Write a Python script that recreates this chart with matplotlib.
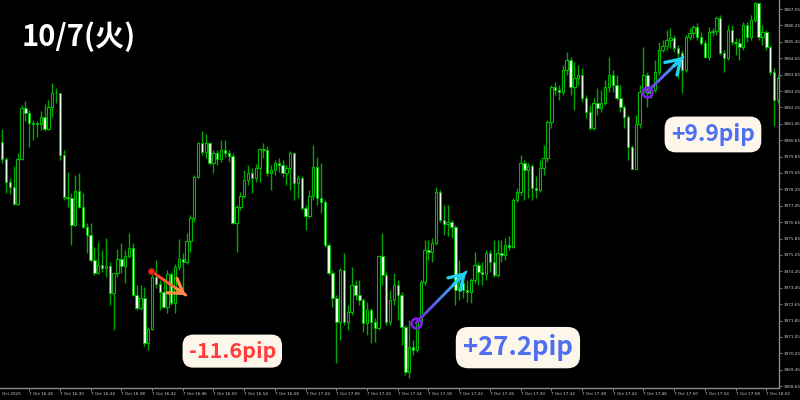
import numpy as np
import matplotlib
matplotlib.use("Agg")
import matplotlib.pyplot as plt
from matplotlib.collections import LineCollection
from matplotlib.colors import LinearSegmentedColormap
import matplotlib.transforms as mtransforms

# 30-second candles, 7 Oct 2025 16:22 - 18:03
first_open = 3980.57
close = [
    3979.73, 3978.61, 3978.36, 3977.53, 3979.73, 3982.22, 3981.98, 3981.49, 3981.44, 3981.46,
    3981.78, 3981.19, 3982.27, 3982.95, 3982.93, 3979.93, 3977.88, 3977.83, 3976.51, 3978.17,
    3977.39, 3976.41, 3976.02, 3974.80, 3974.17, 3974.56, 3974.41, 3974.51, 3973.19, 3974.17,
    3974.85, 3974.51, 3975.00, 3975.39, 3973.09, 3972.46, 3972.95, 3970.75, 3971.43, 3973.97,
    3973.63, 3973.24, 3972.51, 3974.12, 3972.70, 3974.46, 3974.85, 3974.70, 3975.73, 3976.85,
    3978.85, 3980.51, 3980.07, 3980.49, 3979.54, 3980.02, 3979.73, 3980.17, 3980.02, 3979.88,
    3976.61, 3977.39, 3977.93, 3978.71, 3979.05, 3978.80, 3979.29, 3980.22, 3980.15, 3979.05,
    3979.19, 3979.54, 3979.44, 3979.05, 3979.29, 3980.02, 3978.56, 3978.80, 3977.34, 3976.95,
    3977.93, 3979.34, 3977.83, 3977.63, 3975.54, 3974.17, 3972.95, 3971.78, 3974.31, 3971.78,
    3972.27, 3973.58, 3973.09, 3972.85, 3971.73, 3972.36, 3971.80, 3971.48, 3975.00, 3974.07,
    3971.78, 3972.85, 3973.58, 3973.09, 3971.53, 3969.34, 3970.56, 3970.41, 3971.78, 3973.73,
    3975.29, 3975.19, 3975.63, 3978.12, 3976.76, 3976.56, 3976.66, 3976.41, 3973.34, 3973.68,
    3973.34, 3973.24, 3973.83, 3974.56, 3974.22, 3974.12, 3975.14, 3974.70, 3974.07, 3975.14,
    3975.05, 3975.54, 3975.44, 3977.73, 3978.12, 3979.54, 3979.19, 3979.39, 3978.32, 3978.22,
    3979.29, 3979.78, 3981.54, 3983.24, 3983.10, 3983.00, 3984.07, 3984.56, 3983.24, 3983.68,
    3983.83, 3982.71, 3982.02, 3981.24, 3982.46, 3982.22, 3982.46, 3983.24, 3983.83, 3983.34,
    3982.71, 3982.27, 3981.78, 3980.32, 3979.24, 3981.44, 3983.00, 3983.83, 3982.95, 3983.10,
    3983.98, 3985.05, 3985.24, 3985.54, 3985.64, 3985.15, 3984.90, 3984.07, 3985.68, 3985.88,
    3986.17, 3985.68, 3985.39, 3984.71, 3985.93, 3985.98, 3986.61, 3984.90, 3984.66, 3986.03,
    3985.44, 3985.39, 3985.20, 3986.27, 3985.68, 3986.51, 3987.34, 3985.68, 3985.93, 3985.20,
    3983.98, 3982.61, 3983.68,
]
high = [
    3981.19, 3979.83, 3978.80, 3979.39, 3980.02, 3982.37, 3982.56, 3982.12, 3981.63, 3981.58,
    3982.07, 3982.41, 3982.61, 3983.44, 3983.20, 3982.95, 3980.17, 3979.10, 3978.07, 3978.95,
    3979.05, 3978.07, 3976.61, 3976.61, 3975.44, 3975.68, 3975.29, 3975.88, 3974.70, 3974.17,
    3975.34, 3975.63, 3975.29, 3976.12, 3975.63, 3973.58, 3973.58, 3973.49, 3971.53, 3974.41,
    3974.80, 3973.83, 3973.93, 3974.31, 3974.22, 3974.61, 3975.83, 3975.14, 3976.12, 3977.00,
    3978.95, 3980.56, 3981.10, 3980.95, 3980.56, 3980.17, 3980.17, 3980.66, 3980.66, 3980.17,
    3980.02, 3977.49, 3978.12, 3979.19, 3979.44, 3979.29, 3979.49, 3980.27, 3980.51, 3980.37,
    3979.44, 3979.68, 3979.78, 3979.68, 3979.44, 3980.12, 3980.07, 3978.95, 3978.90, 3977.49,
    3978.22, 3980.41, 3979.83, 3979.54, 3977.73, 3975.63, 3974.31, 3973.09, 3974.41, 3975.14,
    3972.61, 3974.46, 3973.83, 3973.83, 3972.95, 3972.75, 3972.46, 3971.97, 3975.05, 3976.12,
    3974.22, 3973.34, 3974.17, 3973.83, 3973.24, 3971.63, 3971.88, 3970.90, 3971.97, 3973.83,
    3975.78, 3975.78, 3975.88, 3978.36, 3978.22, 3977.49, 3977.49, 3976.76, 3976.51, 3974.80,
    3974.07, 3973.83, 3973.93, 3975.19, 3974.70, 3974.70, 3975.29, 3975.29, 3975.78, 3975.78,
    3975.78, 3975.88, 3975.97, 3977.83, 3978.32, 3979.93, 3979.68, 3979.54, 3979.49, 3978.90,
    3979.68, 3980.41, 3981.63, 3983.34, 3983.49, 3983.34, 3984.32, 3984.95, 3984.71, 3984.46,
    3984.32, 3984.17, 3982.85, 3982.37, 3982.71, 3983.20, 3983.10, 3983.59, 3984.71, 3984.07,
    3983.83, 3983.34, 3982.37, 3981.88, 3980.41, 3981.88, 3983.34, 3985.20, 3983.98, 3983.34,
    3984.56, 3985.44, 3985.54, 3986.03, 3986.12, 3985.78, 3985.29, 3985.05, 3985.78, 3986.12,
    3986.27, 3986.37, 3985.93, 3985.54, 3986.17, 3986.12, 3986.71, 3986.76, 3985.05, 3986.27,
    3986.27, 3985.64, 3985.64, 3986.42, 3986.42, 3986.76, 3987.39, 3987.34, 3986.27, 3986.03,
    3985.29, 3984.17, 3983.83,
]
low = [
    3979.54, 3978.07, 3978.02, 3977.49, 3977.49, 3979.68, 3981.58, 3980.32, 3980.66, 3980.81,
    3981.15, 3981.10, 3981.15, 3981.78, 3982.46, 3979.68, 3977.73, 3977.39, 3975.54, 3976.46,
    3977.34, 3976.36, 3975.14, 3974.70, 3974.07, 3974.12, 3974.22, 3973.97, 3972.61, 3971.39,
    3973.97, 3974.17, 3973.68, 3974.90, 3973.05, 3972.36, 3972.36, 3970.61, 3970.41, 3971.39,
    3973.44, 3972.36, 3972.46, 3972.22, 3972.61, 3972.22, 3974.31, 3973.34, 3974.61, 3975.19,
    3976.66, 3978.80, 3979.93, 3979.78, 3979.44, 3979.05, 3979.44, 3979.58, 3979.83, 3979.58,
    3976.56, 3975.19, 3977.24, 3977.83, 3978.46, 3978.07, 3978.61, 3978.61, 3979.78, 3978.90,
    3978.22, 3978.95, 3979.10, 3978.85, 3978.46, 3978.22, 3977.73, 3977.83, 3977.24, 3976.27,
    3976.85, 3977.73, 3977.49, 3977.10, 3975.44, 3974.07, 3972.51, 3969.78, 3970.90, 3971.63,
    3971.39, 3972.12, 3972.85, 3972.61, 3971.29, 3971.14, 3970.75, 3970.80, 3971.39, 3973.58,
    3971.63, 3971.63, 3972.61, 3971.88, 3970.66, 3969.19, 3969.04, 3970.17, 3970.31, 3971.68,
    3973.58, 3974.80, 3974.70, 3975.54, 3976.66, 3976.02, 3975.97, 3975.88, 3972.61, 3972.85,
    3972.95, 3972.75, 3972.70, 3973.68, 3973.58, 3973.58, 3973.83, 3974.22, 3973.97, 3973.97,
    3974.70, 3974.80, 3975.29, 3975.39, 3977.63, 3977.97, 3977.73, 3977.83, 3977.73, 3977.83,
    3978.12, 3978.95, 3979.58, 3981.24, 3982.85, 3982.61, 3982.85, 3983.83, 3982.85, 3982.12,
    3983.34, 3982.51, 3981.73, 3981.15, 3981.15, 3981.88, 3982.02, 3982.37, 3983.00, 3983.00,
    3982.61, 3982.02, 3981.24, 3979.68, 3979.19, 3979.34, 3981.24, 3982.85, 3982.27, 3982.71,
    3983.00, 3983.83, 3984.95, 3985.05, 3985.15, 3984.95, 3983.68, 3982.95, 3983.98, 3985.54,
    3985.64, 3985.54, 3985.29, 3984.66, 3984.56, 3985.73, 3985.78, 3984.81, 3983.98, 3984.56,
    3985.29, 3984.81, 3984.56, 3985.05, 3985.44, 3985.54, 3986.42, 3985.54, 3985.29, 3985.05,
    3983.83, 3981.34, 3982.46,
]

price_ticks = [3968.65, 3969.45, 3970.25, 3971.05, 3971.85, 3972.65, 3973.45, 3974.25,
               3975.05, 3975.85, 3976.65, 3977.45, 3978.25, 3979.05, 3979.85, 3980.65,
               3981.45, 3982.25, 3983.05, 3983.85, 3984.65, 3985.45, 3986.25, 3987.05]
time_labels = ["16:26", "16:30", "16:34", "16:38", "16:42", "16:46", "16:50", "16:54",
               "16:58", "17:02", "17:06", "17:10", "17:14", "17:18", "17:22", "17:26",
               "17:30", "17:34", "17:38", "17:42", "17:46", "17:50", "17:54", "17:58", "18:02"]
time_label_bar = [7 + 8 * k for k in range(len(time_labels))]

# trade annotations: (bar, price) start/end and label
moves = [
    dict(start=(38.7, 3974.27), end=(47.8, 3973.09), text="-11.6pip",
         c0="#ff2a2a", c1="#ff8a4a", txt_color="#ff3d3d", box=(59.9, 3970.36), size=15.5),
    dict(start=(107.7, 3971.73), end=(120.8, 3974.22), text="+27.2pip",
         c0="#7a1fe0", c1="#1fd0f0", txt_color="#4f6ff0", box=(134.3, 3970.53), size=18.5),
    dict(start=(167.9, 3983.00), end=(177.3, 3984.71), text="+9.9pip",
         c0="#7a1fe0", c1="#1fd0f0", txt_color="#4f6ff0", box=(185.1, 3980.93), size=16.5),
]

close = np.array(close)
high = np.array(high)
low = np.array(low)
opn = np.concatenate([[first_open], close[:-1]])
idx = np.arange(len(close))
high = np.maximum(high, np.maximum(opn, close))
low = np.minimum(low, np.minimum(opn, close))

plt.rcParams["font.family"] = ["Noto Sans CJK JP", "DejaVu Sans"]

fig = plt.figure(figsize=(8, 4), dpi=100, facecolor="black")
ax = fig.add_axes([0, 0.03, 779 / 800, 0.97], facecolor="black")

wick_color = "#00a800"
ax.vlines(idx, low, high, color=wick_color, linewidth=1.0, zorder=1)
bear = close < opn
body_lo = np.minimum(opn, close)
body_h = np.maximum(np.abs(close - opn), 0.03)
ax.bar(idx[bear], body_h[bear], bottom=body_lo[bear], width=0.62,
       color="#e4ffe4", edgecolor="#00b800", linewidth=0.7, zorder=2)
ax.bar(idx[~bear], body_h[~bear], bottom=body_lo[~bear], width=0.62,
       color="black", edgecolor="#00b800", linewidth=0.8, zorder=2)

ax.set_xlim(-0.6, 202.3)
ax.set_ylim(3968.56, 3987.49)

for s in ["left", "top"]:
    ax.spines[s].set_visible(False)
for s in ["right", "bottom"]:
    ax.spines[s].set_color("#8a8a8a")
    ax.spines[s].set_linewidth(1.0)

tick_font = 3.0
ax.yaxis.tick_right()
ax.set_yticks(price_ticks)
ax.set_yticklabels([f"{p:.2f}" for p in price_ticks])
ax.tick_params(axis="y", colors="#8a8a8a", labelcolor="#d0d0d0", labelsize=tick_font,
               length=2, width=0.6, pad=1.2)
ax.set_xticks(time_label_bar)
ax.set_xticklabels([f"7 Oct {t}" for t in time_labels], ha="left")
ax.tick_params(axis="x", colors="#8a8a8a", labelcolor="#d0d0d0", labelsize=tick_font,
               length=2, width=0.6, pad=1.0)
trans = mtransforms.blended_transform_factory(ax.transData, ax.transAxes)
ax.text(0.0, -0.0105, "Oct 2025", transform=trans, ha="left", va="top",
        fontsize=tick_font, color="#d0d0d0", family="DejaVu Sans")
for lab in ax.get_xticklabels() + ax.get_yticklabels():
    lab.set_family("DejaVu Sans")

# title
ax.text(22 / 779, 1 - 37 / 388, "10/7(火)", transform=ax.transAxes, ha="left",
        va="center", fontsize=21, fontweight="bold", color="white")

for m in moves:
    (x0, y0), (x1, y1) = m["start"], m["end"]
    n = 40
    xs = np.linspace(x0, x1, n)
    ys = np.linspace(y0, y1, n)
    pts = np.column_stack([xs, ys]).reshape(-1, 1, 2)
    segs = np.concatenate([pts[:-1], pts[1:]], axis=1)
    cmap = LinearSegmentedColormap.from_list("g", [m["c0"], m["c1"]])
    lc = LineCollection(segs, colors=cmap(np.linspace(0, 1, n - 1)), linewidth=2.0,
                        capstyle="round", zorder=5)
    ax.add_collection(lc)
    ax.annotate("", xy=(x1, y1), xytext=(x1 - (x1 - x0) * 0.25, y1 - (y1 - y0) * 0.25),
                arrowprops=dict(arrowstyle="->,head_length=0.55,head_width=0.35",
                                color=m["c1"], lw=2.4, mutation_scale=18,
                                shrinkA=0, shrinkB=0), zorder=6)
    if m["c0"] == "#ff2a2a":
        ax.plot(x0, y0, "o", ms=4, color=m["c0"], mec="#c01010", zorder=7)
    else:
        ax.plot(x0, y0, "o", ms=7, mfc="none", mec=m["c0"], mew=2.0, zorder=7)
    ax.text(m["box"][0], m["box"][1], m["text"], ha="center", va="center",
            fontsize=m["size"], fontweight="bold", color=m["txt_color"], zorder=8,
            bbox=dict(boxstyle="round,pad=0.28,rounding_size=0.5", fc="#fdf6ea",
                      ec="none"))

fig.savefig("out.png", dpi=100, facecolor="black")
